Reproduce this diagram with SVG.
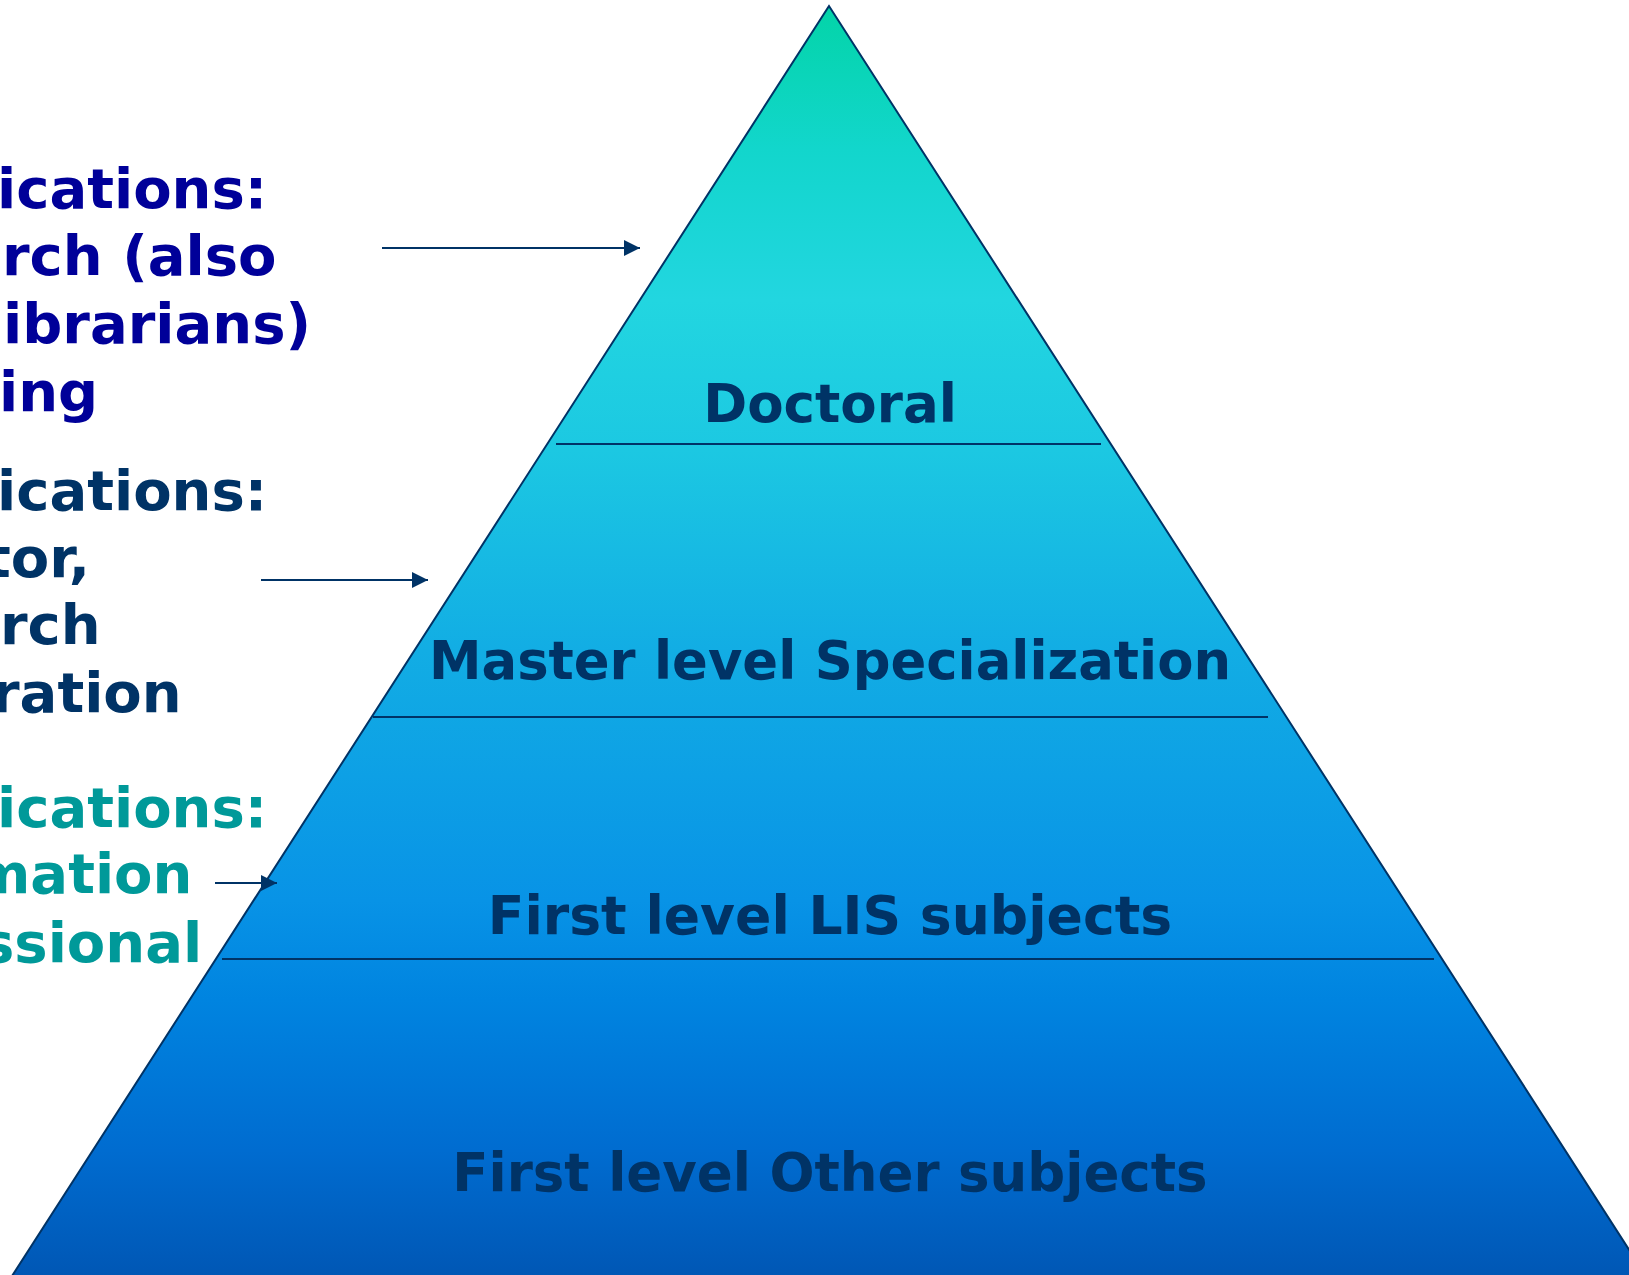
<svg xmlns="http://www.w3.org/2000/svg" width="1629" height="1275" viewBox="0 0 1629 1275">
  <defs>
    <linearGradient id="pyr" gradientUnits="userSpaceOnUse" x1="0" y1="6" x2="0" y2="1275">
      <stop offset="0" stop-color="#03D4A8"/>
      <stop offset="0.113" stop-color="#12D6CC"/>
      <stop offset="0.232" stop-color="#22D6E0"/>
      <stop offset="0.35" stop-color="#1CC8E2"/>
      <stop offset="0.508" stop-color="#12ADE4"/>
      <stop offset="0.705" stop-color="#0893E6"/>
      <stop offset="0.783" stop-color="#0084E0"/>
      <stop offset="0.902" stop-color="#006CD0"/>
      <stop offset="1" stop-color="#0057B5"/>
    </linearGradient>
    <marker id="arrow" markerUnits="userSpaceOnUse" markerWidth="18" markerHeight="18" refX="16" refY="8" orient="auto">
      <path d="M0,0 L16,8 L0,16 Z" fill="#003366"/>
    </marker>
    <style>
      .lbl { font-family: "DejaVu Sans", Verdana, sans-serif; font-weight: bold; }
      .left { font-size: 56px; }
      .c1 { fill: #000099; }
      .c2 { fill: #003366; }
      .c3 { fill: #009999; }
      .tier { font-size: 53px; fill: #003366; text-anchor: middle; }
      .div { stroke: #003366; stroke-width: 2; fill: none; }
      .conn { stroke: #003366; stroke-width: 2; fill: none; marker-end: url(#arrow); }
    </style>
  </defs>

  <g id="pyramid">
    <polygon points="829,6 3,1290 1655,1290" fill="url(#pyr)" stroke="#003366" stroke-width="2" stroke-linejoin="miter"/>
    <line class="div" x1="556" y1="444" x2="1101" y2="444"/>
    <line class="div" x1="373" y1="717" x2="1268" y2="717"/>
    <line class="div" x1="222" y1="959" x2="1434" y2="959"/>
  </g>

  <g id="tier-doctoral">
    <text class="lbl tier" x="830" y="422">Doctoral</text>
  </g>
  <g id="tier-master">
    <text class="lbl tier" x="830" y="679" style="font-size:52.8px">Master level Specialization</text>
  </g>
  <g id="tier-first-lis">
    <text class="lbl tier" x="830" y="934" style="font-size:53.6px">First level LIS subjects</text>
  </g>
  <g id="tier-first-other">
    <text class="lbl tier" x="830" y="1191">First level Other subjects</text>
  </g>

  <g id="qual-doctoral">
    <text class="lbl left c1" x="-3" y="208">ications:</text>
    <text class="lbl left c1" x="2" y="275">rch (also</text>
    <text class="lbl left c1" x="3" y="343">ibrarians)</text>
    <text class="lbl left c1" x="-1" y="411">ing</text>
  </g>
  <g id="qual-master">
    <text class="lbl left c2" x="-3" y="510">ications:</text>
    <text class="lbl left c2" x="-16" y="577">tor,</text>
    <text class="lbl left c2" x="0" y="644">rch</text>
    <text class="lbl left c2" x="-8" y="712">ration</text>
  </g>
  <g id="qual-first">
    <text class="lbl left c3" x="-3" y="827">ications:</text>
    <text class="lbl left c3" x="-28" y="893">mation</text>
    <text class="lbl left c3" x="-19" y="962">ssional</text>
  </g>

  <g id="connectors">
    <line class="conn" x1="382" y1="248" x2="640" y2="248"/>
    <line class="conn" x1="261" y1="580" x2="428" y2="580"/>
    <line class="conn" x1="215" y1="883" x2="277" y2="883"/>
  </g>
</svg>
